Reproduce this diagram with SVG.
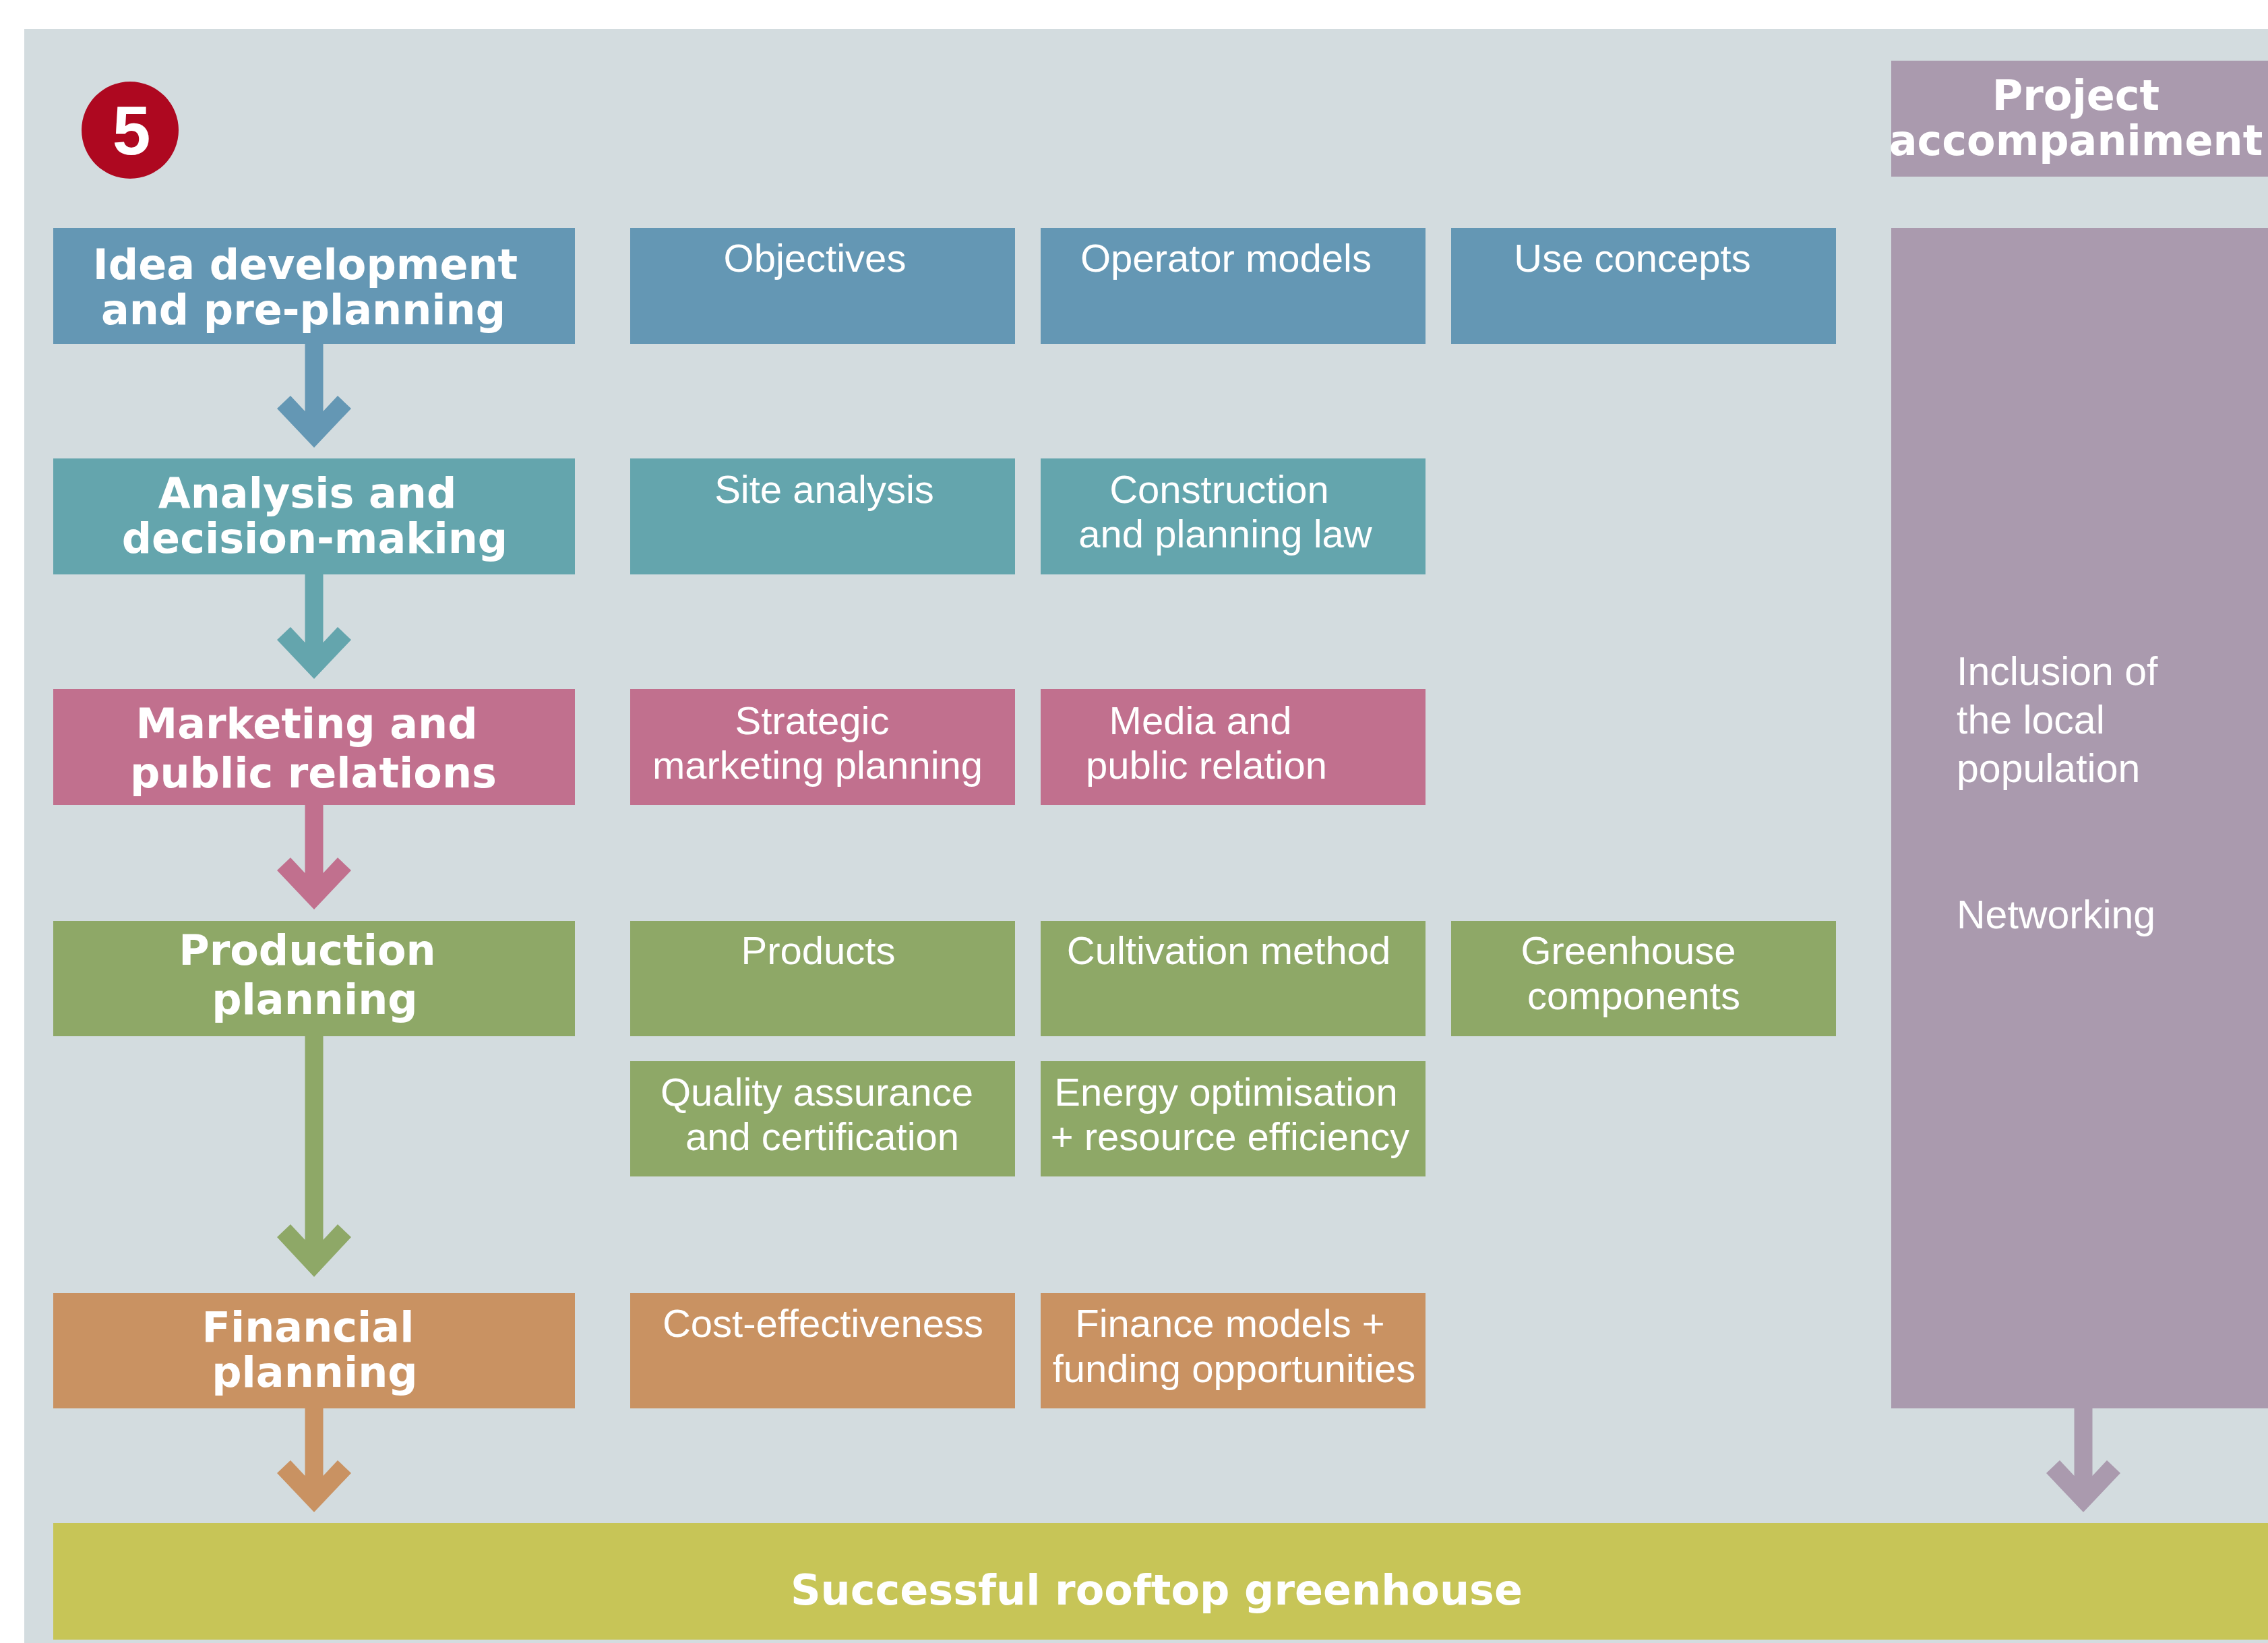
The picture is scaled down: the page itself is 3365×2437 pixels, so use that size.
<svg xmlns="http://www.w3.org/2000/svg" width="3365" height="2437" viewBox="0 0 3365 2437">
<style>
.bg{fill:#d3dcdf}
.blue{fill:#6497b4}
.teal{fill:#64a5ad}
.pink{fill:#c1708e}
.green{fill:#8ea867}
.orange{fill:#c99262}
.purple{fill:#aa9aae}
.yellow{fill:#c7c557}
.t{fill:#ffffff;font-family:"Liberation Sans",Arial,sans-serif;font-size:58px;text-anchor:middle}
.tl{fill:#ffffff;font-family:"Liberation Sans",Arial,sans-serif;font-size:59px;text-anchor:start}
.b{fill:#ffffff;font-family:"DejaVu Sans",Verdana,sans-serif;font-weight:bold;font-size:62px;text-anchor:middle}
</style>
<rect x="0" y="0" width="3365" height="2437" fill="#ffffff"/>
<rect class="bg" x="36" y="43" width="3340" height="2400"/>

<g id="badge">
<circle cx="193" cy="193" r="72" fill="#ae0820"/>
<text x="195" y="229" fill="#ffffff" font-family="Liberation Sans, Arial, sans-serif" font-weight="bold" font-size="102" text-anchor="middle">5</text>
</g>

<g id="connectors">
<polygon class="blue" points="452.5,510 452.5,610 431,587 411,606 466,664 521,606 501,587 479.5,610 479.5,510"/>
<polygon class="teal" points="452.5,852 452.5,953 431,930 411,949 466,1007 521,949 501,930 479.5,953 479.5,852"/>
<polygon class="pink" points="452.5,1194 452.5,1295 431,1272 411,1291 466,1349 521,1291 501,1272 479.5,1295 479.5,1194"/>
<polygon class="green" points="452.5,1537 452.5,1839 431,1816 411,1835 466,1894 521,1835 501,1816 479.5,1839 479.5,1537"/>
<polygon class="orange" points="452.5,2089 452.5,2189 431,2166 411,2185 466,2243 521,2185 501,2166 479.5,2189 479.5,2089"/>
<polygon class="purple" points="3077.5,2089 3077.5,2189 3056,2166 3036,2185 3091,2243 3146,2185 3126,2166 3104.5,2189 3104.5,2089"/>
</g>

<g id="idea">
<rect class="blue" x="79" y="338" width="774" height="172"/>
<text class="b" x="453" y="414">Idea development</text>
<text class="b" x="450" y="481">and pre-planning</text>
</g>
<g id="objectives">
<rect class="blue" x="935" y="338" width="571" height="172"/>
<text class="t" x="1209" y="403">Objectives</text>
</g>
<g id="operator-models">
<rect class="blue" x="1544" y="338" width="571" height="172"/>
<text class="t" x="1819" y="403">Operator models</text>
</g>
<g id="use-concepts">
<rect class="blue" x="2153" y="338" width="571" height="172"/>
<text class="t" x="2422" y="403">Use concepts</text>
</g>

<g id="analysis">
<rect class="teal" x="79" y="680" width="774" height="172"/>
<text class="b" x="456" y="753">Analysis and</text>
<text class="b" x="467" y="820">decision-making</text>
</g>
<g id="site-analysis">
<rect class="teal" x="935" y="680" width="571" height="172"/>
<text class="t" x="1223" y="746">Site analysis</text>
</g>
<g id="construction-law">
<rect class="teal" x="1544" y="680" width="571" height="172"/>
<text class="t" x="1809" y="746">Construction</text>
<text class="t" x="1818" y="812">and planning law</text>
</g>

<g id="marketing">
<rect class="pink" x="79" y="1022" width="774" height="172"/>
<text class="b" x="455" y="1095">Marketing and</text>
<text class="b" x="465" y="1168">public relations</text>
</g>
<g id="strategic-marketing">
<rect class="pink" x="935" y="1022" width="571" height="172"/>
<text class="t" x="1205" y="1089">Strategic</text>
<text class="t" x="1213" y="1155">marketing planning</text>
</g>
<g id="media-pr">
<rect class="pink" x="1544" y="1022" width="571" height="172"/>
<text class="t" x="1781" y="1089">Media and</text>
<text class="t" x="1790" y="1155">public relation</text>
</g>

<g id="production">
<rect class="green" x="79" y="1366" width="774" height="171"/>
<text class="b" x="456" y="1431">Production</text>
<text class="b" x="467" y="1504">planning</text>
</g>
<g id="products">
<rect class="green" x="935" y="1366" width="571" height="171"/>
<text class="t" x="1214" y="1430">Products</text>
</g>
<g id="cultivation">
<rect class="green" x="1544" y="1366" width="571" height="171"/>
<text class="t" x="1823" y="1430">Cultivation method</text>
</g>
<g id="greenhouse-components">
<rect class="green" x="2153" y="1366" width="571" height="171"/>
<text class="t" x="2416" y="1430">Greenhouse</text>
<text class="t" x="2424" y="1497">components</text>
</g>
<g id="quality">
<rect class="green" x="935" y="1574" width="571" height="171"/>
<text class="t" x="1212" y="1640">Quality assurance</text>
<text class="t" x="1220" y="1706">and certification</text>
</g>
<g id="energy">
<rect class="green" x="1544" y="1574" width="571" height="171"/>
<text class="t" x="1819" y="1640">Energy optimisation</text>
<text class="t" x="1825" y="1706">+ resource efficiency</text>
</g>

<g id="financial">
<rect class="orange" x="79" y="1918" width="774" height="171"/>
<text class="b" x="457" y="1990">Financial</text>
<text class="b" x="467" y="2057">planning</text>
</g>
<g id="cost-effectiveness">
<rect class="orange" x="935" y="1918" width="571" height="171"/>
<text class="t" x="1221" y="1983">Cost-effectiveness</text>
</g>
<g id="finance-models">
<rect class="orange" x="1544" y="1918" width="571" height="171"/>
<text class="t" x="1825" y="1983">Finance models +</text>
<text class="t" x="1831" y="2050">funding opportunities</text>
</g>

<g id="project-accompaniment">
<rect class="purple" x="2806" y="90" width="570" height="172"/>
<text class="b" x="3080" y="163">Project</text>
<text class="b" x="3080" y="230">accompaniment</text>
</g>
<g id="accompaniment-tasks">
<rect class="purple" x="2806" y="338" width="570" height="1751"/>
<text class="tl" x="2903" y="1016">Inclusion of</text>
<text class="tl" x="2903" y="1088">the local</text>
<text class="tl" x="2903" y="1160">population</text>
<text class="tl" x="2903" y="1377">Networking</text>
</g>

<g id="result">
<rect class="yellow" x="79" y="2259" width="3300" height="173"/>
<text class="b" x="1716" y="2380">Successful rooftop greenhouse</text>
</g>
</svg>
